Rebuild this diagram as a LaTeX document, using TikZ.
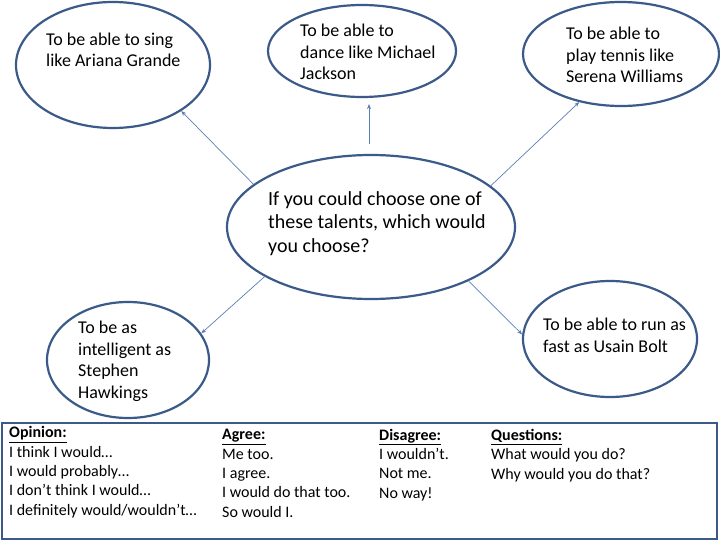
\documentclass[tikz,border=0pt]{standalone}
\usepackage{fontspec}
\setmainfont{Carlito}
\usetikzlibrary{shapes.geometric,arrows.meta}
\definecolor{edge}{HTML}{3B5A8A}
\definecolor{arrowc}{HTML}{5A7FB5}
\tikzset{
  bubble/.style={ellipse,draw=edge,line width=2.2pt,inner sep=0pt},
  txt/.style={anchor=base west,align=left,inner sep=0pt,font=\fontsize{18}{21.5}\selectfont},
  bigtxt/.style={anchor=base west,align=left,inner sep=0pt,font=\fontsize{20}{23.5}\selectfont},
  smalltxt/.style={anchor=base west,align=left,inner sep=0pt,font=\fontsize{16}{19.3}\selectfont},
  arr/.style={draw=arrowc,line width=0.7pt,-{Stealth[length=5pt,width=4pt]}}
}
\begin{document}
\begin{tikzpicture}[x=1pt,y=-1pt]
\useasboundingbox (0,0) rectangle (720,540);
% ellipses
\node[bubble,minimum width=194pt,minimum height=126pt] (a) at (113,65) {};
\node[bubble,minimum width=188pt,minimum height=92pt] (m) at (362,51) {};
\node[bubble,minimum width=196pt,minimum height=104pt] (s) at (621,54) {};
\node[bubble,minimum width=288pt,minimum height=144pt] (c) at (371,227) {};
\node[bubble,minimum width=162pt,minimum height=116pt] (h) at (128,360) {};
\node[bubble,minimum width=174pt,minimum height=116pt] (u) at (610,339) {};
% texts (anchored at the baseline of the last line)
\node[txt] (ta) at (46,67) {To be able to sing\\like Ariana Grande};
\node[txt] (tm) at (300,80) {To be able to\\dance like Michael\\Jackson};
\node[txt] (ts) at (566,83) {To be able to\\play tennis like\\Serena Williams};
\node[bigtxt] (tc) at (268,252) {If you could choose one of\\these talents, which would\\you choose?};
\node[txt] (th) at (78,398) {To be as\\intelligent as\\Stephen\\Hawkings};
\node[txt] (tu) at (543,352) {To be able to run as\\fast as Usain Bolt};
% arrows
\draw[arr] (c.160) -- (a.326);
\draw[arr] ([shift={(-2,-10)}]c.north) -- ([shift={(7,6)}]m.south);
\draw[arr] (c.19) -- (s.229);
\draw[arr] (c.205) -- (h.20);
\draw[arr] (c.331) -- (u.177);
% phrase box
\node[draw=edge,line width=1.6pt,minimum width=715pt,minimum height=116pt,inner sep=0pt,anchor=north west] (box) at (1,422) {};
\node[smalltxt] (op) at (9,515) {\textbf{\underline{Opinion:}}\\I think I would\dots\\I would probably\dots\\I don’t think I would\dots\\I definitely would/wouldn’t\dots};
\node[smalltxt] (ag) at (222,517) {\textbf{\underline{Agree:}}\\Me too.\\I agree.\\I would do that too.\\So would I.};
\node[smalltxt] (di) at (379,498) {\textbf{\underline{Disagree:}}\\I wouldn’t.\\Not me.\\No way!};
\node[smalltxt] (qu) at (491,479) {\textbf{\underline{Questions:}}\\What would you do?\\Why would you do that?};
\end{tikzpicture}
\end{document}
